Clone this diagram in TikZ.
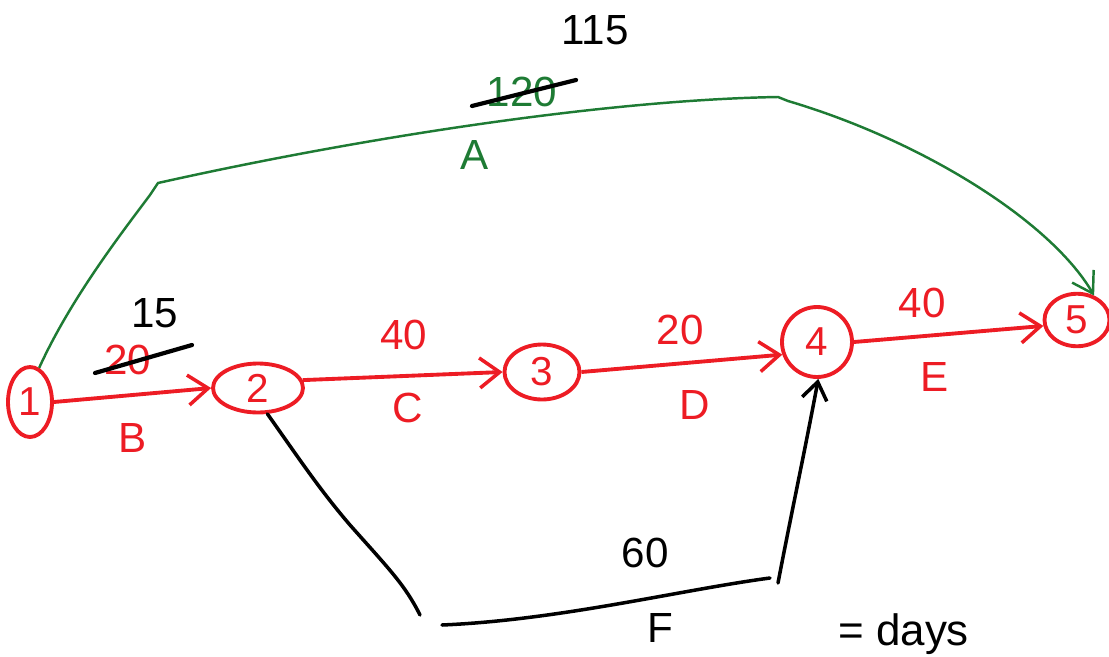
\documentclass[tikz,border=0pt]{standalone}
\usepackage{fontspec}
\setmainfont{Liberation Sans}
\usetikzlibrary{shapes.geometric,arrows.meta}
\definecolor{hred}{RGB}{237,28,36}
\definecolor{hgreen}{RGB}{30,123,52}
\tikzset{
  evt/.style={ellipse,draw=hred,line width=2.2pt,text=hred,inner sep=0pt,font=\fontsize{23}{26}\selectfont},
  redact/.style={draw=hred,line width=2.2pt,-{Straight Barb[length=4mm,width=6mm,line width=2pt]}},
  greenact/.style={draw=hgreen,line width=1.4pt,-{Straight Barb[length=4mm,width=5mm,line width=1.4pt]}},
  blackact/.style={draw=black,line width=2pt,line cap=round},
  lbl/.style={font=\fontsize{24}{28}\selectfont,inner sep=1pt},
  strike/.style={draw=black,line width=2.4pt,line cap=round}
}
\begin{document}
\begin{tikzpicture}[x=0.02cm,y=-0.02cm]
\useasboundingbox (0,0) rectangle (1109,656);
\clip (0,0) rectangle (1109,656);
% events
\node[evt,minimum width=0.88cm,minimum height=1.4cm] (n1) at (30,402) {1};
\node[evt,minimum width=1.8cm,minimum height=0.98cm] (n2) at (258,388) {2};
\node[evt,minimum width=1.5cm,minimum height=1.1cm] (n3) at (542,372) {3};
\node[evt,minimum width=1.4cm,minimum height=1.4cm] (n4) at (817,342) {4};
\node[evt,minimum width=1.3cm,minimum height=1.05cm] (n5) at (1077,320) {5};
% red critical path
\draw[redact] (n1.east) -- (n2.west);
\draw[redact] (n2.10) -- (n3.180);
\draw[redact] (n3.0) -- (n4.200);
\draw[redact] (n4.0) -- (n5.190);
% green activity A
\draw[greenact] (n1.75) .. controls (70,300) and (120,235) .. (150,195) -- (158,183) .. controls (350,140) and (600,100) .. (778,97) -- (788,101) .. controls (920,140) and (1050,220) .. (n5.55);
% black activity F
\draw[blackact] (n2.290) .. controls (300,460) and (320,490) .. (350,525) .. controls (390,570) and (405,585) .. (420,615);
\coordinate (f1) at (442,625);
\coordinate (f2) at (770,578);
\draw[blackact] (f1) .. controls (560,620) and (680,590) .. (f2);
\draw[blackact,-{Straight Barb[length=3.5mm,width=5mm,line width=2pt]}] (778,583) .. controls (790,520) and (805,450) .. (n4.272);
% labels
\node[lbl,text=hred] (lB20) at (128,360) {20};
\draw[strike] (95,373) -- (192,345);
\node[lbl] (lB15) at (155,313) {15};
\node[lbl,text=hred] (lB) at (133,438) {B};
\node[lbl,text=hred] (lC40) at (404,335) {40};
\node[lbl,text=hred] (lC) at (408,408) {C};
\node[lbl,text=hred] (lD20) at (680,330) {20};
\node[lbl,text=hred] (lD) at (695,405) {D};
\node[lbl,text=hred] (lE40) at (922,303) {40};
\node[lbl,text=hred] (lE) at (935,377) {E};
\node[lbl,text=hgreen] (lA120) at (522,92) {120};
\draw[strike] (472,106) -- (576,80);
\node[lbl] (lA115) at (595,30) {115};
\node[lbl,text=hgreen] (lA) at (475,155) {A};
\node[lbl] (lF60) at (645,553) {60};
\node[lbl] (lF) at (660,628) {F};
\node[font=\fontsize{25}{28}\selectfont,inner sep=0pt,anchor=south west] (days) at (838,655) {= days};
\end{tikzpicture}
\end{document}
